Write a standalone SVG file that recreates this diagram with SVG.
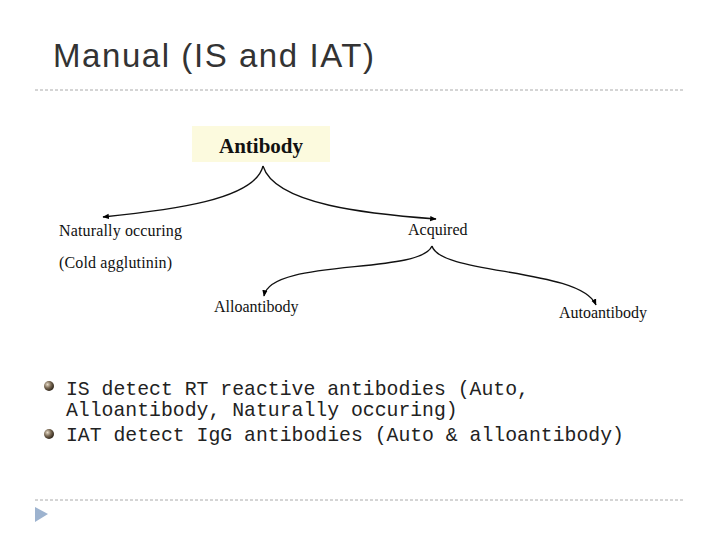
<svg xmlns="http://www.w3.org/2000/svg" width="720" height="540" viewBox="0 0 720 540">
<defs>
<marker id="ah" viewBox="0 0 10 10" refX="9" refY="5" markerWidth="5" markerHeight="5" orient="auto"><path d="M0,1 L10,5 L0,9 z" fill="#000"/></marker>
<radialGradient id="bul" cx="0.35" cy="0.35" r="0.7"><stop offset="0" stop-color="#e8dcc8"/><stop offset="0.5" stop-color="#7a6a55"/><stop offset="1" stop-color="#2a2015"/></radialGradient>
</defs>
<style>
.lbl{font-family:"Liberation Serif",serif;font-size:16px;fill:#111}
.mono{font-family:"Liberation Mono",monospace;font-size:19.8px;fill:#222}
.dash{stroke:#aaa;stroke-width:1;stroke-dasharray:3,2}
.cn{fill:none;stroke:#111;stroke-width:1.3;marker-end:url(#ah)}
</style>
<rect width="720" height="540" fill="#fff"/>
<text x="53" y="67" font-family="Liberation Sans, sans-serif" font-size="33" fill="#333" textLength="321">Manual (IS and IAT)</text>
<line class="dash" x1="35" y1="90" x2="685" y2="90"/>
<line class="dash" x1="35" y1="500" x2="685" y2="500"/>
<path d="M35,507 L48,514 L35,522 z" fill="#9db3cf"/>
<g id="connectors">
<path class="cn" d="M263,166 C255,200 170,210 103,217"/>
<path class="cn" d="M263,166 C275,205 370,214 436,219"/>
<path class="cn" d="M432,246 C420,275 270,258 264,296"/>
<path class="cn" d="M432,246 C440,275 580,268 596,305"/>
</g>
<g id="antibody"><rect x="192" y="126" width="138" height="36" fill="#fcfade"/><text x="261" y="153" text-anchor="middle" font-family="Liberation Serif, serif" font-weight="bold" font-size="21" fill="#111">Antibody</text></g>
<g id="natural"><text class="lbl" x="59" y="236" textLength="123">Naturally occuring</text><text class="lbl" x="59" y="268" textLength="113">(Cold agglutinin)</text></g>
<g id="acquired"><text class="lbl" x="408" y="235">Acquired</text></g>
<g id="allo"><text class="lbl" x="214" y="312">Alloantibody</text></g>
<g id="auto"><text class="lbl" x="559" y="318">Autoantibody</text></g>
<circle cx="49" cy="386" r="5" fill="url(#bul)"/>
<circle cx="49" cy="434" r="5" fill="url(#bul)"/>
<text class="mono" x="66" y="395">IS detect RT reactive antibodies (Auto,</text>
<text class="mono" x="66" y="416">Alloantibody, Naturally occuring)</text>
<text class="mono" x="66" y="441">IAT detect IgG antibodies (Auto &amp; alloantibody)</text>
</svg>
